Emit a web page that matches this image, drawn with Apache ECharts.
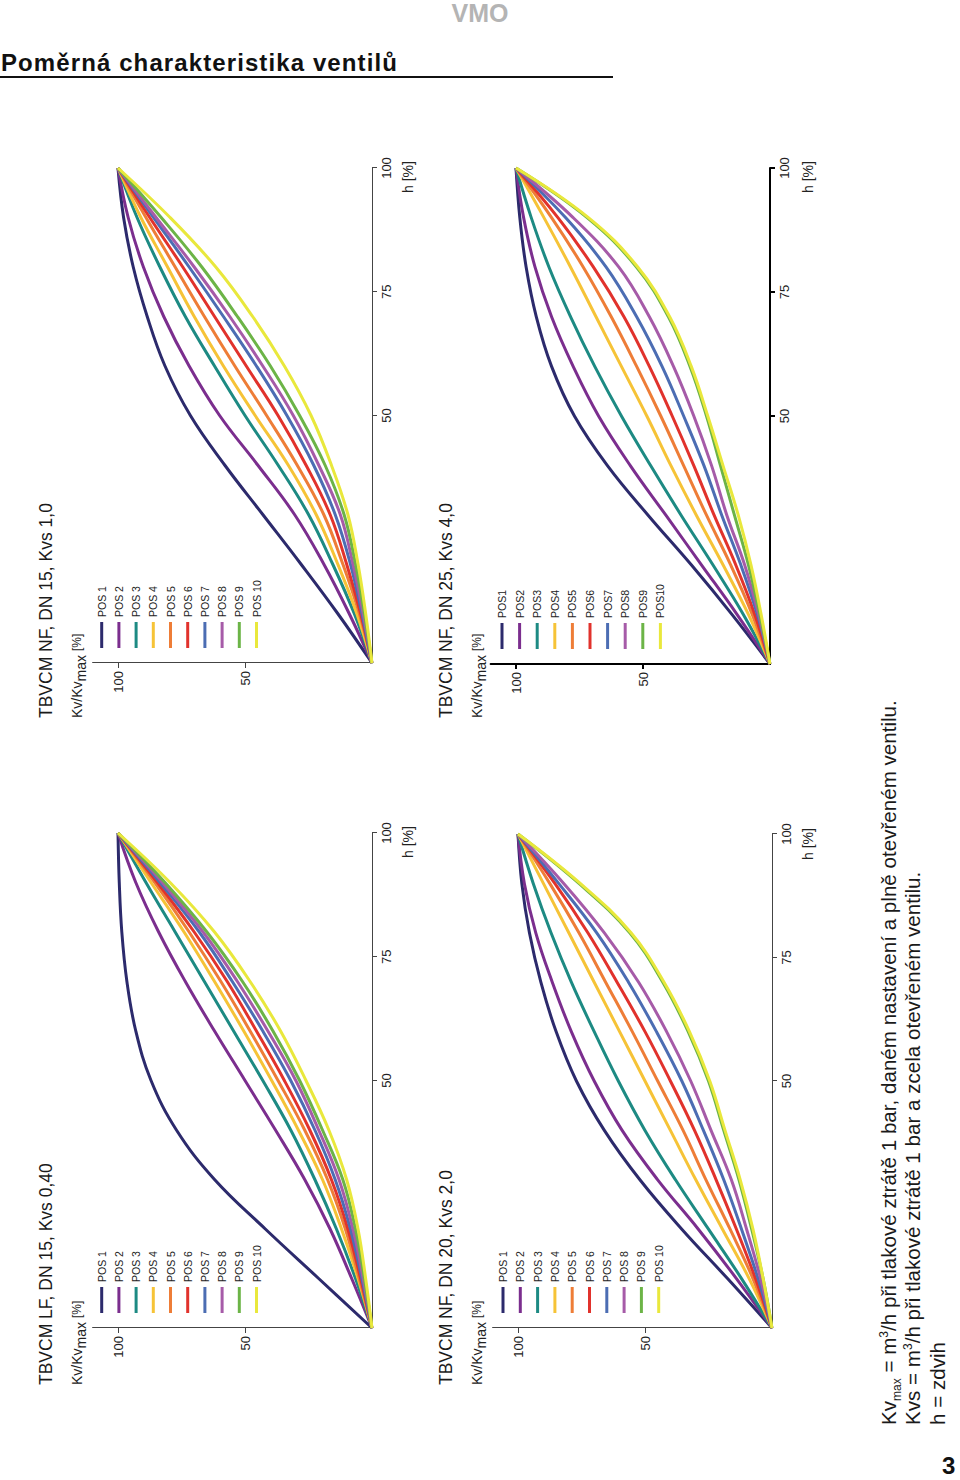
<!DOCTYPE html>
<html>
<head>
<meta charset="utf-8">
<script src="https://cdn.jsdelivr.net/npm/echarts@6/dist/echarts.min.js"></script>
<style>
html,body{margin:0;padding:0;width:960px;height:1480px;overflow:hidden;background:#fff;font-family:"Liberation Sans",Arial,Helvetica,sans-serif;color:#1a1a1a;}
#vmo{position:absolute;left:0;top:0px;width:960px;text-align:center;font-weight:bold;font-size:25px;line-height:27px;color:#b4b4b4;}
#ttl{position:absolute;left:1px;top:49px;font-weight:bold;font-size:24px;color:#111;letter-spacing:1.1px;white-space:nowrap;}
#uline{position:absolute;left:0;top:76px;width:613px;height:2px;background:#111;}
#pg{position:absolute;left:942px;top:1453px;font-weight:bold;font-size:24px;line-height:26px;color:#111;}
#rot{position:absolute;left:0;top:0;width:1390px;height:960px;transform-origin:0 0;transform:translate(0px,1480px) rotate(-90deg);}
#chart{position:absolute;left:0;top:0;width:1390px;height:960px;}
.t{position:absolute;white-space:nowrap;line-height:1;}
.title{font-size:17.5px;color:#1a1a1a;}
.kv{font-size:14px;color:#222;}
.kv sub{font-size:14px;vertical-align:-4px;line-height:0;}
.kv .pc{font-size:12px;vertical-align:1px;}
.hl{font-size:14px;color:#222;}
.fn{font-size:20.6px;color:#1a1a1a;}
.fn sub{font-size:12px;vertical-align:-5px;line-height:0;}
.fn sup{font-size:12px;vertical-align:8px;line-height:0;}
</style>
</head>
<body>
<div id="vmo">VMO</div>
<div id="ttl">Poměrná charakteristika ventilů</div>
<div id="uline"></div>
<div id="pg">3</div>
<div id="rot">
  <div id="chart"></div>
  <div class="t title" style="left:95px;top:38px;">TBVCM LF, DN 15, Kvs 0,40</div>
  <div class="t title" style="left:762px;top:38px;">TBVCM NF, DN 15, Kvs 1,0</div>
  <div class="t title" style="left:95px;top:438px;">TBVCM NF, DN 20, Kvs 2,0</div>
  <div class="t title" style="left:762px;top:438px;">TBVCM NF, DN 25, Kvs 4,0</div>
  <div class="t kv" style="left:95px;top:70px;">Kv/Kv<sub>max</sub> <span class="pc">[%]</span></div>
  <div class="t kv" style="left:762px;top:70px;">Kv/Kv<sub>max</sub> <span class="pc">[%]</span></div>
  <div class="t kv" style="left:95px;top:470px;">Kv/Kv<sub>max</sub> <span class="pc">[%]</span></div>
  <div class="t kv" style="left:762px;top:470px;">Kv/Kv<sub>max</sub> <span class="pc">[%]</span></div>
  <div class="t hl" style="left:622px;top:401px;">h [%]</div>
  <div class="t hl" style="left:1287px;top:401px;">h [%]</div>
  <div class="t hl" style="left:620px;top:801px;">h [%]</div>
  <div class="t hl" style="left:1287px;top:801px;">h [%]</div>
  <div class="t fn" style="left:55px;top:879px;">Kv<sub>max</sub> = m<sup>3</sup>/h při tlakové ztrátě 1 bar, daném nastavení a plně otevřeném ventilu.</div>
  <div class="t fn" style="left:55px;top:903px;">Kvs = m<sup>3</sup>/h při tlakové ztrátě 1 bar a zcela otevřeném ventilu.</div>
  <div class="t fn" style="left:55px;top:928px;">h = zdvih</div>
</div>
<script>
// lift h [%]
const H = [0, 10, 20, 30, 40, 50, 60, 70, 80, 90, 100];
const hTicks = [25, 50, 75, 100];
const kvTicks = [50, 100];
const posColors = ['#2c2a6c', '#7b2e8e', '#1d8a83', '#f6c337', '#ee7d37', '#e1322c', '#4c6db3', '#a65ba8', '#6cb447', '#e9e83c'];
const namesNF = ['POS 1','POS 2','POS 3','POS 4','POS 5','POS 6','POS 7','POS 8','POS 9','POS 10'];
const namesD = ['POS1','POS2','POS3','POS4','POS5','POS6','POS7','POS8','POS9','POS10'];
const chartTitles = ['TBVCM LF, DN 15, Kvs 0,40', 'TBVCM NF, DN 15, Kvs 1,0', 'TBVCM NF, DN 20, Kvs 2,0', 'TBVCM NF, DN 25, Kvs 4,0'];

// Kv/Kvmax [%] per POS (rows POS 1..POS 10), at H
const kvLF15 = [
  [0, 21, 42, 62, 77, 87, 93, 96.5, 98.5, 99.5, 100],
  [0, 8, 16.5, 26.5, 38, 50, 62, 73.5, 84, 93, 100],
  [0, 6.5, 14, 22.5, 32, 43, 54.5, 66, 77.5, 89, 100],
  [0, 5.5, 12, 19.5, 29, 39.5, 50.5, 62, 74, 87, 100],
  [0, 5, 10.5, 17.5, 26.5, 37, 48, 59.5, 72, 85.5, 100],
  [0, 4.5, 9.5, 16, 24.5, 34.5, 45.5, 57, 70, 84.5, 100],
  [0, 4, 8.5, 14.5, 22.5, 32, 43, 55, 68, 83.5, 100],
  [0, 3.5, 7.5, 13, 21, 30, 41, 53, 66.5, 82.5, 100],
  [0, 3, 6.5, 11.5, 19.5, 28.5, 39, 51, 65, 81.5, 100],
  [0, 2.5, 5.5, 10, 17, 26, 36, 48, 62, 79.5, 100]
];
const kvNF15 = [
  [0, 13.5, 28, 43, 58, 71.5, 81.5, 88.5, 94, 97.8, 100],
  [0, 9, 19, 30.5, 45, 60, 72, 82, 90, 96, 100],
  [0, 7, 15.5, 25, 37, 50, 62, 73.5, 83.5, 92.5, 100],
  [0, 6, 13.5, 22, 33, 46, 58.5, 70, 80.5, 91, 100],
  [0, 5, 11.5, 19, 29.5, 41.5, 54, 66, 77.5, 89, 100],
  [0, 4.5, 10, 16.5, 26, 37, 49.5, 62, 74.5, 87.5, 100],
  [0, 4, 8.5, 14.5, 23, 33.5, 45.5, 58.5, 72, 86, 100],
  [0, 3.5, 7.5, 12.5, 21, 31, 43, 56, 70, 85, 100],
  [0, 3, 6.5, 11, 18.5, 28.5, 40, 53, 67, 83, 100],
  [0, 2.5, 5.5, 9.5, 16, 24, 34.5, 47, 61.5, 79.5, 100]
];
const kvNF20 = [
  [0, 17.5, 35.5, 52, 66, 77, 85, 91, 95.5, 98.5, 100],
  [0, 14, 29, 45, 59, 70, 79, 86.5, 93, 97.5, 100],
  [0, 12, 25, 38, 50, 60.5, 70, 79, 87, 94, 100],
  [0, 9, 19.5, 30, 40, 50, 60, 70, 80, 90, 100],
  [0, 7.5, 16.5, 26, 35, 45, 55, 65.5, 76, 87.5, 100],
  [0, 6.5, 14, 22, 30.5, 40, 50, 61, 72.5, 85.5, 100],
  [0, 5.5, 12, 19, 27, 35.5, 45.5, 56.5, 69, 84, 100],
  [0, 4.5, 10, 16, 24, 32, 41.5, 52.5, 66, 82, 100],
  [0, 3.5, 8, 13, 19, 25, 33, 43, 56, 76, 100],
  [0, 3.5, 7.5, 12.5, 18.5, 24.5, 32.5, 42.5, 55.5, 75.5, 100]
];
const kvNF25 = [
  [0, 15, 31, 48, 64, 77, 86, 92, 96, 98.5, 100],
  [0, 13, 27, 41, 55, 67.5, 77.5, 86, 92.5, 97, 100],
  [0, 10.5, 22.5, 35, 47, 58.5, 69, 78.5, 87, 94, 100],
  [0, 8.5, 18.5, 29, 39, 48.5, 58.5, 68.5, 78.5, 89, 100],
  [0, 7, 15.5, 25, 34, 43, 52.5, 62.5, 73.5, 86, 100],
  [0, 6, 13.5, 22, 30, 38.5, 47.5, 57.5, 69.5, 83.5, 100],
  [0, 5, 11.5, 19, 26, 34, 42.5, 52.5, 64.5, 80.5, 100],
  [0, 4.5, 10, 17, 23, 30, 38, 47.5, 59.5, 77.5, 100],
  [0, 4, 8.5, 14, 19.5, 25, 31.5, 40, 52.5, 72, 100],
  [0, 3.5, 7.5, 12.5, 18.5, 24.5, 31, 39.5, 52, 71.5, 100]
];

const charts = [
  {kv: kvLF15, names: namesNF, grid: {left: 152, top: 92.6, width: 495, height: 279.4}, legend: {left: 167, top: 95.7, gap: 5.2}, axisColor: '#444', axisWidth: 1},
  {kv: kvNF15, names: namesNF, grid: {left: 817, top: 92.6, width: 495, height: 279.4}, legend: {left: 832, top: 95.7, gap: 5.2}, axisColor: '#444', axisWidth: 1},
  {kv: kvNF20, names: namesNF, grid: {left: 152, top: 492.6, width: 494, height: 279.4}, legend: {left: 167, top: 497, gap: 5.3}, axisColor: '#444', axisWidth: 1},
  {kv: kvNF25, names: namesD, grid: {left: 816, top: 490.6, width: 496, height: 279.4}, legend: {left: 831, top: 496, gap: 5.6}, axisColor: '#000', axisWidth: 2}
];

const option = {
  animation: false,
  backgroundColor: 'transparent',
  textStyle: {fontFamily: 'Liberation Sans, Arial, sans-serif'},
  grid: [], xAxis: [], yAxis: [], legend: [], series: []
};
charts.forEach((c, i) => {
  option.grid.push(Object.assign({outerBoundsMode: 'none', containLabel: false}, c.grid));
  const axLine = {show: true, lineStyle: {color: c.axisColor, width: c.axisWidth}};
  option.xAxis.push({
    type: 'value', gridIndex: i, min: 0, max: 100, interval: 25,
    axisLine: Object.assign({onZero: false}, axLine),
    axisTick: {show: true, length: 5, customValues: hTicks, lineStyle: {color: c.axisColor, width: c.axisWidth}},
    axisLabel: {customValues: hTicks, showMinLabel: false, fontSize: 13, color: '#222', margin: 8},
    splitLine: {show: false}
  });
  option.yAxis.push({
    type: 'value', gridIndex: i, min: 0, max: 110,
    axisLine: Object.assign({onZero: false}, axLine),
    axisTick: {show: true, length: 5, customValues: kvTicks, lineStyle: {color: c.axisColor, width: c.axisWidth}},
    axisLabel: {customValues: kvTicks, fontSize: 13, color: '#222', margin: 8},
    splitLine: {show: false}
  });
  option.legend.push({
    orient: 'vertical', left: c.legend.left, top: c.legend.top, padding: 0,
    itemWidth: 26, itemHeight: 3, itemGap: c.legend.gap, icon: 'rect',
    selectedMode: false,
    textStyle: {fontSize: 10.5, lineHeight: 12, color: '#222', fontFamily: 'Liberation Sans, Arial, sans-serif'},
    data: c.names
  });
  c.kv.forEach((row, k) => {
    option.series.push({
      type: 'line', name: c.names[k], xAxisIndex: i, yAxisIndex: i,
      data: H.map((h, j) => [h, row[j]]),
      showSymbol: false, symbol: 'none', smooth: 0.4,
      color: posColors[k],
      lineStyle: {width: 3, color: posColors[k]},
      itemStyle: {color: posColors[k]},
      emphasis: {disabled: true}, silent: true
    });
  });
});
const chart = echarts.init(document.getElementById('chart'), null, {renderer: 'svg', width: 1390, height: 960});
chart.setOption(option);
</script>
</body>
</html>
